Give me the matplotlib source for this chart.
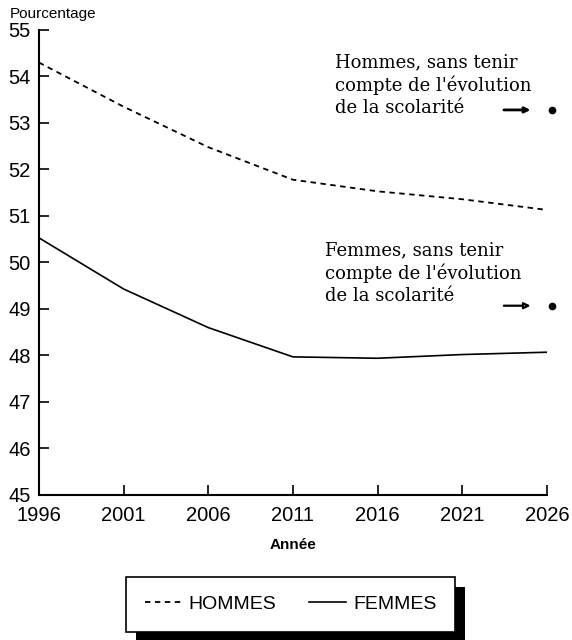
import matplotlib.pyplot as plt
from matplotlib.patches import Rectangle

years = [1996, 2001, 2006, 2011, 2016, 2021, 2026]
hommes = [54.3, 53.35, 52.48, 51.78, 51.53, 51.36, 51.13]
femmes = [50.53, 49.43, 48.6, 47.97, 47.94, 48.02, 48.07]
hommes_sans = 53.28
femmes_sans = 49.07

plt.rcParams['font.family'] = ['Liberation Sans', 'DejaVu Sans']

fig = plt.figure(figsize=(5.72, 6.4), dpi=100)
ax = fig.add_axes([0.068, 0.2266, 0.888, 0.7266])

ax.plot(years, hommes, color='black', lw=1.3, linestyle=(0, (3, 2.5)), label='HOMMES')
ax.plot(years, femmes, color='black', lw=1.2, label='FEMMES')

# points "sans tenir compte de l'évolution de la scolarité"
ax.plot([2026.3], [hommes_sans], 'o', color='black', ms=4.5, clip_on=False)
ax.plot([2026.3], [femmes_sans], 'o', color='black', ms=4.5, clip_on=False)
ax.annotate('', xy=(2025.2, hommes_sans), xytext=(2023.3, hommes_sans),
            arrowprops=dict(arrowstyle='-|>', ec='black', fc='black', lw=2, mutation_scale=8),
            annotation_clip=False)
ax.annotate('', xy=(2025.2, femmes_sans), xytext=(2023.3, femmes_sans),
            arrowprops=dict(arrowstyle='-|>', ec='black', fc='white', lw=1.6, mutation_scale=9),
            annotation_clip=False)

serif = ['DejaVu Serif']
ax.text(2013.5, 54.5, "Hommes, sans tenir\ncompte de l'évolution\nde la scolarité",
        family=serif, fontsize=13, va='top', ha='left', linespacing=1.28)
ax.text(2012.9, 50.45, "Femmes, sans tenir\ncompte de l'évolution\nde la scolarité",
        family=serif, fontsize=13, va='top', ha='left', linespacing=1.28)

ax.set_xlim(1996, 2026)
ax.set_ylim(45, 55)
ax.set_xticks(years)
ax.set_yticks(range(45, 56))
ax.tick_params(direction='in', length=7, width=1.2, labelsize=14.5)
ax.tick_params(axis='x', pad=8)
ax.tick_params(axis='y', pad=6)
for s in ['top', 'right']:
    ax.spines[s].set_visible(False)
for s in ['left', 'bottom']:
    ax.spines[s].set_linewidth(1.5)

ax.set_xlabel('Année', fontsize=11, fontweight='bold', labelpad=9)
fig.text(0.093, 0.978, 'Pourcentage', fontsize=11, ha='center', va='center')

leg = fig.legend(loc='center', bbox_to_anchor=(0.508, 0.0555), ncol=2, frameon=True,
                 fancybox=False, edgecolor='black', framealpha=1, fontsize=14,
                 handlelength=1.9, columnspacing=1.7, borderpad=0.95, handletextpad=0.36)
leg.get_frame().set_linewidth(1.2)
leg.set_zorder(5)

fig.canvas.draw()
bb = leg.get_window_extent().transformed(fig.transFigure.inverted())
dx, dy = 10 / 572, 10 / 640
fig.patches.append(Rectangle((bb.x0 + dx, bb.y0 - dy), bb.width, bb.height,
                             transform=fig.transFigure, facecolor='black', zorder=4))

fig.savefig('out.png', dpi=100)
